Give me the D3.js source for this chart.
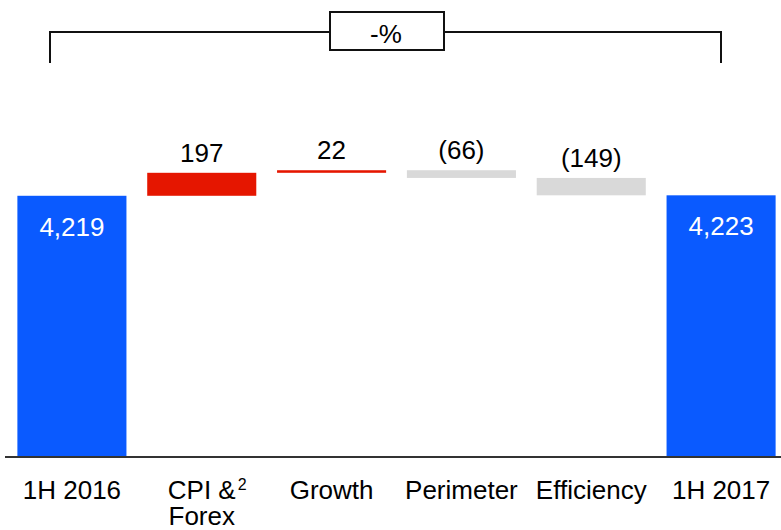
<!DOCTYPE html>
<html>
<head>
<meta charset="utf-8">
<script src="https://cdn.jsdelivr.net/npm/d3@7"></script>
<style>
  body { margin: 0; background: #fff; }
  text { font-family: "Liberation Sans", Arial, sans-serif; }
</style>
</head>
<body>
<div id="chart"></div>
<script>
// waterfall data
var categories = ["1H 2016", "CPI &", "Growth", "Perimeter", "Efficiency", "1H 2017"];
var secondLine = ["", "Forex", "", "", "", ""];
var values = [4219, 197, 22, -66, -149, 4223];
var kinds = ["total", "up", "up", "down", "down", "total"];
var valueLabels = ["4,219", "197", "22", "(66)", "(149)", "4,223"];
var bracketLabel = "-%";

var width = 781, height = 530;
var colours = { total: "#0a5aff", up: "#e51600", down: "#d9d9d9" };

var svg = d3.select("#chart").append("svg")
    .attr("width", width)
    .attr("height", height);

var x = d3.scaleBand()
    .domain(categories)
    .range([7, 786])
    .paddingInner(0.16)
    .paddingOuter(0.08);

// axis does not start at zero
var y = d3.scaleLinear()
    .domain([1980, 4440])
    .range([457, 170]);

// running totals for the floating bars
var running = 0;
var bars = values.map(function (v, i) {
    var d = { name: categories[i], kind: kinds[i], label: valueLabels[i], idx: i };
    if (kinds[i] === "total") {
        d.start = y.domain()[0];
        d.end = v;
        running = v;
    } else {
        d.start = running;
        d.end = running + v;
        running = d.end;
    }
    return d;
});

svg.selectAll(".bar")
    .data(bars)
    .enter().append("rect")
    .attr("class", "bar")
    .attr("x", function (d) { return x(d.name); })
    .attr("width", x.bandwidth())
    .attr("y", function (d) { return y(Math.max(d.start, d.end)); })
    .attr("height", function (d) { return Math.abs(y(d.start) - y(d.end)); })
    .attr("fill", function (d) { return colours[d.kind]; });

// value labels
svg.selectAll(".val")
    .data(bars)
    .enter().append("text")
    .attr("class", "val")
    .attr("x", function (d) { return x(d.name) + x.bandwidth() / 2; })
    .attr("y", function (d) {
        var top = y(Math.max(d.start, d.end));
        return d.kind === "total" ? top + 40 : top - 11;
    })
    .attr("text-anchor", "middle")
    .attr("font-size", 26)
    .attr("fill", function (d) { return d.kind === "total" ? "#fff" : "#000"; })
    .text(function (d) { return d.label; });

// baseline
svg.append("line")
    .attr("x1", 5).attr("x2", width)
    .attr("y1", y.range()[0]).attr("y2", y.range()[0])
    .attr("stroke", "#333")
    .attr("stroke-width", 2);

// category labels, one text per line
var catX = function (d) { return x(d) + x.bandwidth() / 2; };

svg.selectAll(".cat")
    .data(categories)
    .enter().append("text")
    .attr("class", "cat")
    .attr("x", catX)
    .attr("y", 499)
    .attr("text-anchor", "middle")
    .attr("font-size", 26)
    .attr("fill", "#000")
    .text(function (d) { return d; });

svg.selectAll(".cat2")
    .data(categories)
    .enter().append("text")
    .attr("class", "cat2")
    .attr("x", catX)
    .attr("y", 525)
    .attr("text-anchor", "middle")
    .attr("font-size", 26)
    .attr("fill", "#000")
    .text(function (d, i) { return secondLine[i]; });

// footnote marker on CPI & Forex
svg.append("text")
    .attr("x", catX(categories[1]) + 36)
    .attr("y", 490)
    .attr("font-size", 16)
    .attr("fill", "#000")
    .text("2");

// bracket annotation on top
var br = svg.append("g").attr("fill", "none").attr("stroke", "#111").attr("stroke-width", 2);
br.append("path").attr("d", "M50,63V32H330");
br.append("path").attr("d", "M444,32H721V63");
br.append("rect")
    .attr("x", 330).attr("y", 12)
    .attr("width", 114).attr("height", 38)
    .attr("fill", "#fff");

svg.append("text")
    .attr("x", 386)
    .attr("y", 43)
    .attr("text-anchor", "middle")
    .attr("font-size", 26)
    .attr("fill", "#000")
    .text(bracketLabel);
</script>
</body>
</html>
